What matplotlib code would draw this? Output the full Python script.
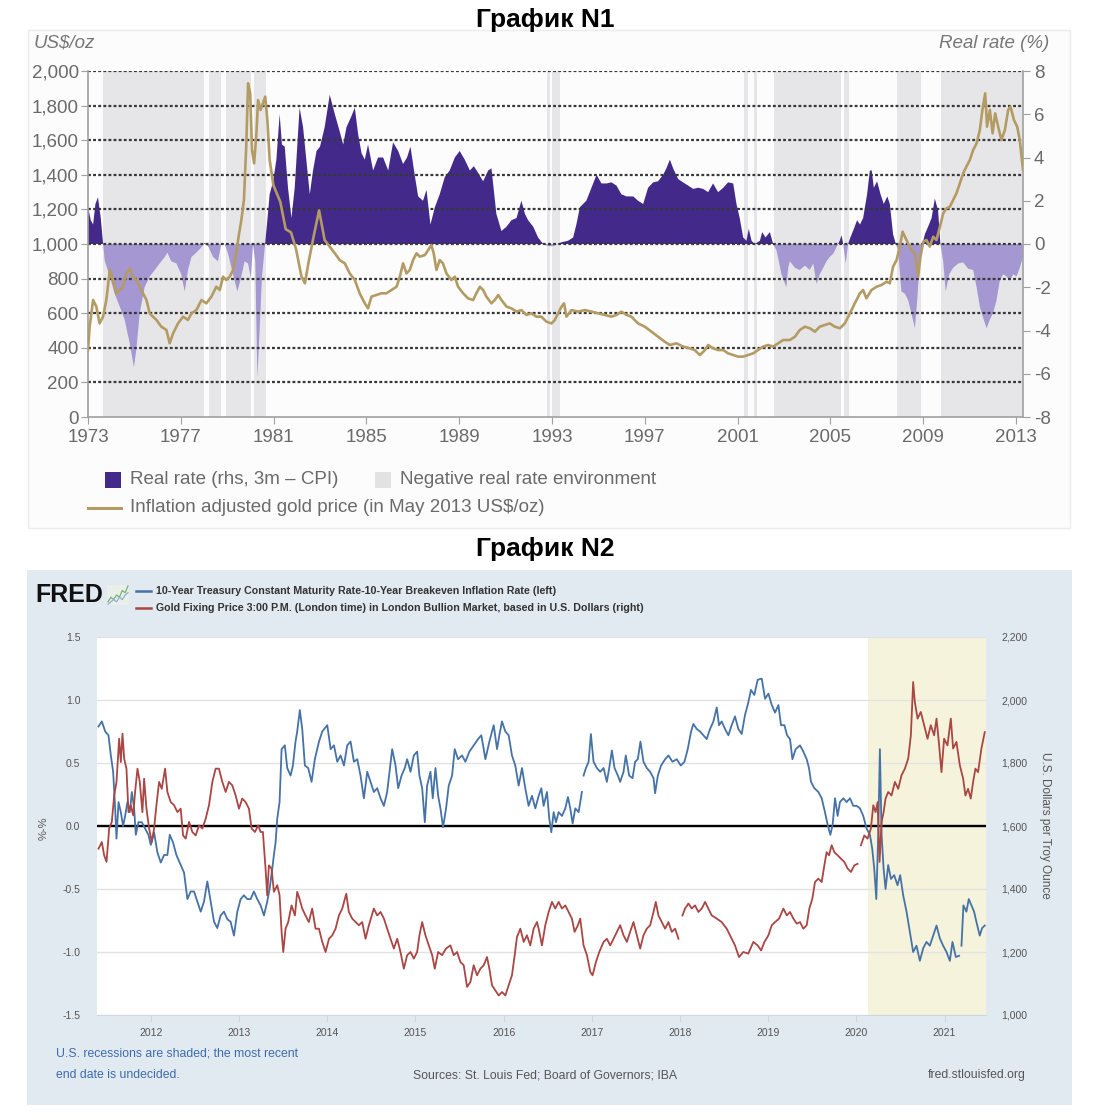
import numpy as np
import matplotlib
matplotlib.use('Agg')
import matplotlib.pyplot as plt
from matplotlib.patches import Rectangle
from matplotlib.lines import Line2D
from matplotlib.ticker import FuncFormatter

NAN = float('nan')

# ---------------- Chart N1 data ----------------
p1_rate_years = [
    1973.00, 1973.12, 1973.22, 1973.32, 1973.43, 1973.55, 1973.65, 1973.72, 1973.94, 1974.15,
    1974.37, 1974.58, 1974.80, 1974.98, 1975.08, 1975.23, 1975.44, 1975.66, 1975.88, 1976.09,
    1976.31, 1976.42, 1976.59, 1976.81, 1977.02, 1977.17, 1977.31, 1977.46, 1977.67, 1977.89,
    1978.03, 1978.20, 1978.39, 1978.60, 1978.75, 1978.89, 1979.04, 1979.25, 1979.44, 1979.61,
    1979.75, 1979.90, 1980.02, 1980.11, 1980.21, 1980.30, 1980.40, 1980.50, 1980.62, 1980.73,
    1980.83, 1980.98, 1981.12, 1981.26, 1981.36, 1981.48, 1981.62, 1981.77, 1981.91, 1982.12,
    1982.27, 1982.41, 1982.56, 1982.70, 1982.85, 1983.00, 1983.20, 1983.42, 1983.64, 1983.85,
    1984.00, 1984.14, 1984.35, 1984.50, 1984.64, 1984.79, 1984.93, 1985.07, 1985.29, 1985.50,
    1985.72, 1985.94, 1986.15, 1986.37, 1986.58, 1986.75, 1986.90, 1987.08, 1987.23, 1987.44,
    1987.59, 1987.76, 1987.95, 1988.16, 1988.38, 1988.59, 1988.81, 1989.02, 1989.24, 1989.46,
    1989.63, 1989.81, 1990.03, 1990.25, 1990.39, 1990.60, 1990.82, 1991.04, 1991.25, 1991.47,
    1991.68, 1991.83, 1991.97, 1992.19, 1992.40, 1992.62, 1992.83, 1993.05, 1993.41, 1993.69,
    1993.91, 1994.05, 1994.20, 1994.34, 1994.48, 1994.70, 1994.92, 1995.13, 1995.35, 1995.56,
    1995.78, 1995.99, 1996.21, 1996.50, 1996.71, 1996.93, 1997.14, 1997.36, 1997.57, 1997.79,
    1997.93, 1998.08, 1998.22, 1998.44, 1998.65, 1998.87, 1999.08, 1999.30, 1999.51, 1999.73,
    1999.94, 2000.16, 2000.38, 2000.59, 2000.81, 2000.95, 2001.09, 2001.24, 2001.38, 2001.48,
    2001.60, 2001.74, 2001.96, 2002.06, 2002.20, 2002.39, 2002.53, 2002.68, 2002.89, 2003.10,
    2003.18, 2003.25, 2003.47, 2003.68, 2003.90, 2004.11, 2004.26, 2004.40, 2004.54, 2004.69,
    2004.83, 2004.97, 2005.12, 2005.26, 2005.40, 2005.48, 2005.55, 2005.66, 2005.76, 2005.86,
    2006.01, 2006.15, 2006.27, 2006.41, 2006.58, 2006.70, 2006.78, 2006.87, 2007.01, 2007.16,
    2007.30, 2007.45, 2007.56, 2007.70, 2007.82, 2007.92, 2008.06, 2008.21, 2008.35, 2008.49,
    2008.64, 2008.74, 2008.85, 2008.97, 2009.07, 2009.21, 2009.36, 2009.50, 2009.64, 2009.74,
    2009.86, 2009.97, 2010.12, 2010.29, 2010.51, 2010.72, 2010.94, 2011.15, 2011.30, 2011.44,
    2011.58, 2011.73, 2011.87, 2012.01, 2012.16, 2012.30, 2012.44, 2012.59, 2012.73, 2012.88,
    2013.02, 2013.16, 2013.30]
p1_rate_vals = [
    1.7, 1.1, 0.9, 1.85, 2.16, 1.2, 0.0, -0.77, -1.5, -2.3,
    -2.9, -3.5, -4.6, -5.7, -4.9, -3.2, -2.0, -1.5, -1.2, -0.9,
    -0.6, -0.4, -0.8, -0.9, -1.4, -2.2, -1.2, -0.6, -0.4, -0.15,
    0.05, -0.15, -0.6, -0.8, 0.05, 0.0, -0.45, -1.4, -2.2, -1.5,
    -0.8, -0.9, -1.6, 0.0, -0.8, -6.2, -3.9, -1.5, -0.15, 1.1,
    2.3, 2.9, 3.9, 6.0, 4.6, 4.5, 2.6, 1.2, 2.6, 6.3,
    5.4, 3.9, 2.3, 3.4, 4.3, 4.5, 5.4, 6.9, 6.0, 5.2,
    4.6, 5.4, 5.9, 6.3, 5.1, 4.2, 3.9, 4.6, 3.4, 4.0,
    4.0, 3.4, 4.7, 4.3, 3.7, 4.0, 4.5, 3.2, 2.2, 2.0,
    2.5, 0.9, 1.7, 2.3, 3.1, 3.4, 4.0, 4.3, 3.9, 3.4,
    3.6, 3.3, 2.9, 3.4, 3.5, 1.4, 0.6, 0.8, 1.1, 1.2,
    2.0, 1.4, 1.1, 0.8, 0.3, 0.0, -0.1, -0.1, 0.08, 0.15,
    0.3, 0.9, 1.7, 1.85, 2.0, 2.6, 3.2, 2.8, 2.8, 2.85,
    2.7, 2.3, 2.2, 2.2, 2.0, 1.85, 2.6, 2.85, 2.9, 3.2,
    3.5, 3.9, 3.5, 3.0, 2.85, 2.7, 2.55, 2.6, 2.55, 2.4,
    2.8, 2.4, 2.6, 2.85, 2.8, 1.85, 1.2, 0.3, 0.15, 0.7,
    0.15, 0.0, 0.15, 0.55, 0.3, 0.55, 0.0, -0.3, -1.4, -2.0,
    -1.1, -0.8, -1.1, -1.2, -1.0, -1.2, -0.9, -1.85, -1.4, -1.1,
    -0.8, -0.6, -0.45, -0.15, 0.15, 0.4, 0.0, -0.9, 0.0, 0.3,
    0.7, 1.1, 0.9, 1.2, 2.3, 3.4, 3.4, 2.6, 2.9, 2.3,
    1.85, 2.2, 1.85, 0.45, 0.0, -0.3, -2.2, -2.3, -2.6, -3.2,
    -3.9, -2.6, -0.8, 0.0, 0.45, 0.8, 1.2, 2.1, 1.55, 0.0,
    -0.8, -2.2, -1.4, -1.1, -0.9, -0.85, -1.15, -1.2, -2.0, -2.9,
    -3.4, -3.9, -3.5, -3.2, -2.6, -1.7, -1.4, -1.5, -1.7, -1.4,
    -1.5, -1.1, -0.6]

p1_gold_years = [
    1973.00, 1973.07, 1973.22, 1973.36, 1973.50, 1973.65, 1973.79, 1973.94, 1974.08, 1974.22,
    1974.37, 1974.51, 1974.65, 1974.80, 1974.94, 1975.08, 1975.23, 1975.37, 1975.52, 1975.66,
    1975.80, 1975.95, 1976.16, 1976.38, 1976.52, 1976.67, 1976.88, 1977.10, 1977.31, 1977.46,
    1977.67, 1977.89, 1978.10, 1978.32, 1978.53, 1978.68, 1978.82, 1978.96, 1979.11, 1979.25,
    1979.39, 1979.49, 1979.61, 1979.72, 1979.82, 1979.90, 1979.99, 1980.07, 1980.16, 1980.26,
    1980.33, 1980.44, 1980.54, 1980.64, 1980.73, 1980.83, 1980.99, 1981.29, 1981.52, 1981.75,
    1981.97, 1982.20, 1982.35, 1982.50, 1982.73, 1982.96, 1983.20, 1983.42, 1983.64, 1983.85,
    1984.07, 1984.28, 1984.50, 1984.71, 1984.93, 1985.07, 1985.22, 1985.43, 1985.65, 1985.86,
    1986.08, 1986.30, 1986.44, 1986.58, 1986.73, 1986.87, 1987.01, 1987.16, 1987.30, 1987.52,
    1987.66, 1987.80, 1987.90, 1988.02, 1988.16, 1988.30, 1988.45, 1988.66, 1988.81, 1988.95,
    1989.17, 1989.38, 1989.60, 1989.74, 1989.89, 1990.03, 1990.17, 1990.39, 1990.53, 1990.68,
    1990.82, 1991.04, 1991.25, 1991.47, 1991.68, 1991.90, 1992.11, 1992.33, 1992.54, 1992.76,
    1992.98, 1993.12, 1993.26, 1993.41, 1993.52, 1993.62, 1993.84, 1994.13, 1994.41, 1994.70,
    1994.99, 1995.28, 1995.56, 1995.78, 1995.99, 1996.21, 1996.42, 1996.71, 1997.00, 1997.29,
    1997.57, 1997.86, 1998.08, 1998.36, 1998.65, 1998.94, 1999.15, 1999.37, 1999.59, 1999.73,
    1999.94, 2000.16, 2000.38, 2000.59, 2000.81, 2001.02, 2001.24, 2001.45, 2001.67, 2001.88,
    2002.10, 2002.32, 2002.53, 2002.75, 2002.96, 2003.25, 2003.47, 2003.68, 2003.90, 2004.11,
    2004.33, 2004.54, 2004.76, 2004.97, 2005.19, 2005.41, 2005.62, 2005.84, 2006.05, 2006.27,
    2006.41, 2006.55, 2006.77, 2006.99, 2007.20, 2007.42, 2007.56, 2007.70, 2007.85, 2007.99,
    2008.11, 2008.21, 2008.35, 2008.49, 2008.64, 2008.78, 2008.88, 2009.00, 2009.14, 2009.28,
    2009.43, 2009.57, 2009.72, 2009.86, 2010.00, 2010.15, 2010.29, 2010.43, 2010.58, 2010.72,
    2010.86, 2011.01, 2011.15, 2011.30, 2011.44, 2011.55, 2011.67, 2011.75, 2011.87, 2011.99,
    2012.10, 2012.23, 2012.37, 2012.52, 2012.66, 2012.76, 2012.91, 2013.05, 2013.16, 2013.30]
p1_gold_vals = [
    387, 522, 676, 638, 541, 580, 676, 850, 792, 715,
    734, 753, 830, 859, 811, 792, 753, 715, 676, 599,
    580, 561, 522, 503, 426, 484, 541, 580, 561, 599,
    618, 676, 657, 696, 753, 734, 811, 792, 811, 850,
    946, 1042, 1139, 1254, 1563, 1929, 1871, 1543, 1466, 1640,
    1832, 1775, 1813, 1852, 1717, 1486, 1340, 1243, 1086, 1067,
    969, 812, 773, 890, 1047, 1194, 1023, 985, 946, 907,
    888, 830, 792, 715, 657, 628, 696, 705, 715, 715,
    734, 753, 811, 888, 830, 850, 907, 946, 927, 936,
    965, 994, 946, 850, 907, 888, 830, 792, 811, 753,
    715, 686, 676, 715, 753, 734, 696, 657, 676, 705,
    676, 638, 628, 609, 618, 590, 599, 580, 580, 551,
    541, 561, 599, 638, 657, 580, 618, 609, 618, 609,
    599, 590, 580, 590, 609, 590, 580, 541, 522, 493,
    464, 435, 416, 426, 407, 397, 387, 358, 387, 416,
    397, 387, 387, 368, 358, 349, 349, 358, 368, 387,
    407, 416, 407, 426, 445, 445, 464, 503, 522, 513,
    493, 522, 532, 541, 522, 513, 541, 599, 657, 715,
    734, 686, 734, 753, 763, 782, 773, 869, 907, 985,
    1071, 1042, 1004, 965, 946, 811, 927, 1013, 1023, 985,
    1042, 1023, 1100, 1177, 1206, 1216, 1254, 1293, 1351, 1408,
    1447, 1486, 1543, 1582, 1659, 1775, 1871, 1678, 1775, 1640,
    1755, 1678, 1601, 1659, 1775, 1794, 1717, 1678, 1601, 1428]

# negative real rate environment (shaded periods)
neg_band_start = [1973.66, 1978.22, 1978.95, 1980.16, 1992.78, 1993.00, 2001.26, 2001.70, 2002.57, 2005.60, 2007.85, 2009.78]
neg_band_end = [1978.02, 1978.75, 1980.04, 1980.66, 1992.92, 1993.35, 2001.44, 2001.84, 2005.47, 2005.80, 2008.92, 2013.30]

p1_left_ticks = list(range(0, 2001, 200))
p1_right_ticks = list(range(-8, 9, 2))
p1_x_ticks = list(range(1973, 2014, 4))

# ---------------- Chart N2 data ----------------
p2_real_years = [
    2011.407, 2011.445, 2011.483, 2011.520, 2011.547, 2011.573, 2011.596, 2011.611, 2011.634, 2011.660,
    2011.686, 2011.709, 2011.735, 2011.762, 2011.785, 2011.811, 2011.830, 2011.860, 2011.898, 2011.936,
    2011.973, 2012.000, 2012.037, 2012.075, 2012.113, 2012.151, 2012.188, 2012.215, 2012.252, 2012.290,
    2012.339, 2012.377, 2012.415, 2012.452, 2012.490, 2012.528, 2012.566, 2012.603, 2012.641, 2012.679,
    2012.717, 2012.754, 2012.792, 2012.830, 2012.868, 2012.905, 2012.943, 2012.981, 2013.019, 2013.056,
    2013.094, 2013.132, 2013.169, 2013.207, 2013.245, 2013.283, 2013.320, 2013.347, 2013.377, 2013.396,
    2013.415, 2013.434, 2013.460, 2013.483, 2013.520, 2013.547, 2013.585, 2013.611, 2013.641, 2013.660,
    2013.690, 2013.717, 2013.747, 2013.785, 2013.823, 2013.860, 2013.907, 2013.944, 2014.001, 2014.039,
    2014.077, 2014.114, 2014.152, 2014.190, 2014.227, 2014.265, 2014.303, 2014.341, 2014.378, 2014.416,
    2014.454, 2014.492, 2014.529, 2014.567, 2014.605, 2014.643, 2014.680, 2014.707, 2014.737, 2014.775,
    2014.805, 2014.843, 2014.880, 2014.907, 2014.945, 2014.982, 2015.020, 2015.046, 2015.077, 2015.107,
    2015.133, 2015.171, 2015.197, 2015.228, 2015.258, 2015.284, 2015.314, 2015.348, 2015.378, 2015.416,
    2015.446, 2015.484, 2015.529, 2015.567, 2015.612, 2015.661, 2015.711, 2015.748, 2015.794, 2015.839,
    2015.888, 2015.926, 2015.952, 2015.982, 2016.020, 2016.058, 2016.095, 2016.133, 2016.171, 2016.209,
    2016.246, 2016.284, 2016.322, 2016.360, 2016.398, 2016.428, 2016.454, 2016.492, 2016.518, 2016.541,
    2016.568, 2016.594, 2016.624, 2016.662, 2016.700, 2016.730, 2016.756, 2016.783, 2016.813, 2016.851,
    2016.888, 2016.897, 2016.907, 2016.934, 2016.964, 2016.990, 2017.020, 2017.058, 2017.096, 2017.134,
    2017.171, 2017.198, 2017.228, 2017.258, 2017.296, 2017.322, 2017.360, 2017.386, 2017.424, 2017.462,
    2017.492, 2017.522, 2017.552, 2017.586, 2017.624, 2017.662, 2017.700, 2017.718, 2017.749, 2017.786,
    2017.832, 2017.869, 2017.915, 2017.964, 2018.009, 2018.051, 2018.088, 2018.126, 2018.152, 2018.190,
    2018.228, 2018.266, 2018.303, 2018.341, 2018.379, 2018.417, 2018.443, 2018.473, 2018.511, 2018.549,
    2018.586, 2018.624, 2018.662, 2018.700, 2018.737, 2018.775, 2018.805, 2018.843, 2018.881, 2018.927,
    2018.965, 2019.003, 2019.041, 2019.078, 2019.116, 2019.146, 2019.184, 2019.214, 2019.248, 2019.275,
    2019.312, 2019.361, 2019.399, 2019.437, 2019.463, 2019.486, 2019.524, 2019.569, 2019.607, 2019.644,
    2019.675, 2019.705, 2019.731, 2019.758, 2019.788, 2019.814, 2019.852, 2019.890, 2019.928, 2019.965,
    2020.003, 2020.041, 2020.078, 2020.116, 2020.154, 2020.180, 2020.203, 2020.226, 2020.248, 2020.267,
    2020.286, 2020.309, 2020.331, 2020.361, 2020.392, 2020.429, 2020.467, 2020.497, 2020.531, 2020.569,
    2020.607, 2020.644, 2020.682, 2020.720, 2020.758, 2020.795, 2020.833, 2020.871, 2020.909, 2020.946,
    2020.984, 2021.022, 2021.060, 2021.090, 2021.128, 2021.165, 2021.175, 2021.192, 2021.214, 2021.248,
    2021.275, 2021.305, 2021.335, 2021.361, 2021.399, 2021.426, 2021.456]
p2_real_vals = [
    0.79, 0.83, 0.75, 0.72, 0.56, 0.43, 0.14, -0.10, 0.19, 0.11,
    0.00, 0.08, 0.19, 0.11, 0.27, 0.14, -0.07, 0.03, 0.03, -0.02,
    -0.07, -0.15, -0.05, -0.21, -0.29, -0.23, -0.23, -0.07, -0.13, -0.23,
    -0.31, -0.37, -0.58, -0.52, -0.52, -0.60, -0.68, -0.60, -0.44, -0.60,
    -0.76, -0.81, -0.71, -0.68, -0.74, -0.76, -0.87, -0.68, -0.58, -0.55,
    -0.58, -0.58, -0.52, -0.58, -0.63, -0.71, -0.60, -0.50, -0.34, -0.23,
    -0.13, 0.06, 0.19, 0.61, 0.64, 0.46, 0.40, 0.48, 0.67, 0.75,
    0.92, 0.77, 0.48, 0.46, 0.35, 0.53, 0.67, 0.75, 0.80, 0.61,
    0.64, 0.51, 0.56, 0.48, 0.64, 0.67, 0.51, 0.53, 0.40, 0.22,
    0.43, 0.35, 0.27, 0.30, 0.22, 0.16, 0.27, 0.43, 0.61, 0.48,
    0.30, 0.40, 0.46, 0.53, 0.43, 0.56, 0.59, 0.40, 0.30, 0.03,
    0.32, 0.43, 0.22, 0.46, 0.24, 0.14, -0.01, 0.14, 0.32, 0.40,
    0.61, 0.53, 0.56, 0.51, 0.59, 0.64, 0.69, 0.72, 0.53, 0.67,
    0.80, 0.61, 0.72, 0.83, 0.75, 0.72, 0.56, 0.48, 0.32, 0.46,
    0.30, 0.16, 0.24, 0.14, 0.24, 0.30, 0.16, 0.27, 0.06, -0.05,
    0.11, 0.03, 0.11, 0.08, 0.14, 0.23, 0.14, 0.02, 0.14, 0.11,
    0.27, NAN, 0.40, 0.46, 0.51, 0.73, 0.51, 0.46, 0.43, 0.46,
    0.35, 0.46, 0.60, 0.46, 0.40, 0.35, 0.43, 0.56, 0.40, 0.38,
    0.51, 0.53, 0.67, 0.51, 0.46, 0.43, 0.38, 0.26, 0.40, 0.48,
    0.53, 0.56, 0.51, 0.53, 0.48, 0.51, 0.61, 0.75, 0.81, 0.77,
    0.75, 0.72, 0.69, 0.77, 0.83, 0.94, 0.80, 0.83, 0.77, 0.72,
    0.80, 0.87, 0.77, 0.73, 0.88, 0.98, 1.08, 1.04, 1.16, 1.17,
    1.01, 1.05, 0.96, 0.90, 0.96, 0.80, 0.80, 0.72, 0.69, 0.53,
    0.61, 0.64, 0.59, 0.53, 0.46, 0.35, 0.30, 0.27, 0.22, 0.11,
    0.01, -0.07, 0.01, 0.22, 0.08, 0.19, 0.22, 0.19, 0.22, 0.16,
    0.16, 0.14, 0.08, -0.02, -0.07, -0.18, -0.34, -0.58, -0.07, 0.61,
    -0.07, -0.34, -0.50, -0.31, -0.42, -0.39, -0.47, -0.39, -0.55, -0.68,
    -0.84, -1.00, -0.95, -1.07, -0.97, -0.92, -0.95, -0.87, -0.79, -0.89,
    -0.95, -1.00, -1.07, -0.92, -1.04, -1.03, NAN, -0.95, -0.63, -0.68,
    -0.58, -0.63, -0.68, -0.76, -0.87, -0.81, -0.79]

p2_gold_years = [
    2011.407, 2011.445, 2011.471, 2011.498, 2011.528, 2011.558, 2011.585, 2011.611, 2011.641, 2011.660,
    2011.679, 2011.698, 2011.724, 2011.747, 2011.773, 2011.800, 2011.822, 2011.849, 2011.875, 2011.905,
    2011.924, 2011.951, 2011.981, 2012.011, 2012.037, 2012.064, 2012.094, 2012.124, 2012.162, 2012.188,
    2012.226, 2012.264, 2012.302, 2012.339, 2012.366, 2012.396, 2012.434, 2012.471, 2012.509, 2012.547,
    2012.585, 2012.622, 2012.660, 2012.698, 2012.735, 2012.773, 2012.811, 2012.849, 2012.886, 2012.924,
    2012.962, 2013.000, 2013.037, 2013.075, 2013.113, 2013.143, 2013.181, 2013.218, 2013.245, 2013.271,
    2013.301, 2013.320, 2013.339, 2013.369, 2013.396, 2013.434, 2013.460, 2013.483, 2013.502, 2013.528,
    2013.558, 2013.596, 2013.634, 2013.660, 2013.686, 2013.717, 2013.754, 2013.792, 2013.830, 2013.868,
    2013.907, 2013.944, 2013.982, 2014.020, 2014.058, 2014.095, 2014.133, 2014.171, 2014.216, 2014.246,
    2014.284, 2014.322, 2014.360, 2014.397, 2014.435, 2014.473, 2014.529, 2014.567, 2014.605, 2014.643,
    2014.680, 2014.718, 2014.756, 2014.794, 2014.831, 2014.869, 2014.907, 2014.945, 2014.982, 2015.020,
    2015.046, 2015.077, 2015.114, 2015.152, 2015.190, 2015.220, 2015.258, 2015.303, 2015.348, 2015.397,
    2015.435, 2015.473, 2015.511, 2015.548, 2015.586, 2015.624, 2015.661, 2015.699, 2015.737, 2015.775,
    2015.812, 2015.839, 2015.869, 2015.907, 2015.945, 2015.982, 2016.020, 2016.058, 2016.095, 2016.126,
    2016.152, 2016.190, 2016.228, 2016.265, 2016.303, 2016.341, 2016.379, 2016.398, 2016.435, 2016.473,
    2016.511, 2016.549, 2016.586, 2016.624, 2016.662, 2016.700, 2016.737, 2016.775, 2016.805, 2016.843,
    2016.869, 2016.907, 2016.945, 2016.983, 2017.009, 2017.047, 2017.085, 2017.134, 2017.171, 2017.209,
    2017.247, 2017.285, 2017.322, 2017.360, 2017.398, 2017.435, 2017.473, 2017.511, 2017.549, 2017.586,
    2017.624, 2017.662, 2017.700, 2017.726, 2017.756, 2017.794, 2017.832, 2017.869, 2017.907, 2017.945,
    2017.983, 2018.000, 2018.028, 2018.058, 2018.096, 2018.134, 2018.171, 2018.209, 2018.247, 2018.285,
    2018.322, 2018.360, 2018.417, 2018.473, 2018.530, 2018.586, 2018.624, 2018.669, 2018.718, 2018.775,
    2018.832, 2018.881, 2018.920, 2018.958, 2019.003, 2019.041, 2019.078, 2019.124, 2019.173, 2019.211,
    2019.248, 2019.286, 2019.324, 2019.361, 2019.399, 2019.437, 2019.467, 2019.501, 2019.531, 2019.569,
    2019.607, 2019.637, 2019.663, 2019.690, 2019.720, 2019.750, 2019.788, 2019.826, 2019.863, 2019.901,
    2019.939, 2019.977, 2020.014, 2020.025, 2020.052, 2020.090, 2020.127, 2020.165, 2020.192, 2020.218,
    2020.241, 2020.263, 2020.286, 2020.309, 2020.331, 2020.361, 2020.399, 2020.437, 2020.475, 2020.512,
    2020.550, 2020.588, 2020.618, 2020.644, 2020.663, 2020.694, 2020.731, 2020.769, 2020.807, 2020.844,
    2020.882, 2020.909, 2020.935, 2020.965, 2020.995, 2021.033, 2021.071, 2021.097, 2021.135, 2021.173,
    2021.211, 2021.237, 2021.267, 2021.297, 2021.324, 2021.350, 2021.380, 2021.418, 2021.456]
p2_gold_vals = [
    1528, 1549, 1507, 1486, 1592, 1613, 1697, 1740, 1877, 1803,
    1893, 1814, 1782, 1644, 1666, 1634, 1708, 1782, 1740, 1644,
    1750, 1655, 1592, 1549, 1592, 1666, 1740, 1718, 1782, 1708,
    1676, 1666, 1644, 1655, 1570, 1560, 1613, 1581, 1570, 1602,
    1592, 1623, 1666, 1740, 1782, 1782, 1740, 1708, 1740, 1729,
    1697, 1655, 1687, 1676, 1655, 1592, 1581, 1602, 1581, 1581,
    1465, 1380, 1475, 1465, 1391, 1412, 1380, 1264, 1200, 1274,
    1295, 1348, 1316, 1391, 1369, 1338, 1316, 1295, 1338, 1274,
    1274, 1232, 1200, 1242, 1253, 1274, 1316, 1338, 1385, 1327,
    1306, 1295, 1285, 1295, 1242, 1285, 1338, 1316, 1327, 1306,
    1274, 1242, 1211, 1242, 1200, 1147, 1190, 1200, 1179, 1200,
    1253, 1295, 1253, 1221, 1190, 1147, 1200, 1190, 1211, 1221,
    1190, 1200, 1168, 1158, 1089, 1105, 1158, 1126, 1147, 1158,
    1184, 1147, 1094, 1078, 1062, 1073, 1062, 1094, 1126, 1190,
    1248, 1274, 1232, 1253, 1221, 1274, 1295, 1274, 1221, 1285,
    1327, 1359, 1338, 1359, 1338, 1348, 1327, 1306, 1264, 1285,
    1306, 1221, 1190, 1137, 1126, 1168, 1200, 1232, 1242, 1221,
    1242, 1264, 1285, 1253, 1232, 1264, 1295, 1253, 1211, 1253,
    1274, 1285, 1327, 1359, 1316, 1295, 1274, 1295, 1264, 1274,
    1242, NAN, 1316, 1338, 1354, 1338, 1348, 1327, 1338, 1359,
    1338, 1316, 1306, 1295, 1274, 1242, 1221, 1184, 1200, 1195,
    1232, 1221, 1205, 1232, 1253, 1285, 1295, 1306, 1338, 1316,
    1327, 1306, 1290, 1295, 1274, 1285, 1338, 1369, 1422, 1433,
    1422, 1475, 1517, 1507, 1539, 1517, 1507, 1496, 1486, 1465,
    1454, 1475, 1480, NAN, 1539, 1570, 1560, 1592, 1666, 1644,
    1676, 1486, 1613, 1644, 1687, 1708, 1697, 1740, 1718, 1761,
    1782, 1814, 1888, 2057, 1994, 1941, 1962, 1920, 1877, 1920,
    1888, 1941, 1867, 1771, 1877, 1856, 1941, 1846, 1867, 1793,
    1750, 1697, 1718, 1687, 1740, 1782, 1771, 1846, 1898]

recession_start = 2020.13
recession_end = 2021.47
p2_x_ticks = list(range(2012, 2022))
p2_left_ticks = [-1.5, -1.0, -0.5, 0.0, 0.5, 1.0, 1.5]
p2_right_ticks = list(range(1000, 2201, 200))

# small FRED logo graph
icon_green = [1, 3, 2, 4, 3, 6, 5, 8]
icon_blue = [0, 1, 2, 1, 3, 2, 4, 5]

# ---------------- styling ----------------
plt.rcParams['axes.unicode_minus'] = False
plt.rcParams['font.family'] = ['Liberation Sans', 'DejaVu Sans']

W, H = 1094, 1120
def fx(px):
    return px / W
def fy(py):
    return 1 - py / H

DARK_PURPLE = '#432a8a'
LIGHT_PURPLE = '#a597d2'
GOLD = '#b39b63'
SHADE = '#e6e6e8'
GREY_TXT = '#6a6a6a'
FRED_BLUE = '#4572a7'
FRED_RED = '#aa4643'
FS1 = 13.5

fig = plt.figure(figsize=(W / 100, H / 100), dpi=100)
fig.patch.set_facecolor('white')

# ================= Chart N1 =================
fig.patches.append(Rectangle((fx(28), fy(528)), fx(1070) - fx(28), fy(30) - fy(528),
                             transform=fig.transFigure, facecolor='#fcfcfc',
                             edgecolor='#ececec', lw=1, zorder=-5))
fig.text(fx(545), fy(20), 'График N1', ha='center', va='center', fontsize=19, fontweight='bold')

ax1 = fig.add_axes([fx(88), fy(417), fx(1023) - fx(88), fy(71) - fy(417)])
ax1.set_facecolor('none')
ax1g = ax1.twinx()
ax1.yaxis.tick_right()
ax1g.yaxis.tick_left()

ax1.set_xlim(1973, 2013.3)
ax1.set_ylim(-8, 8)
ax1g.set_ylim(0, 2000)

for a, b in zip(neg_band_start, neg_band_end):
    ax1.axvspan(a, b, color=SHADE, lw=0, zorder=0)

rate = np.array(p1_rate_vals)
ax1.fill_between(p1_rate_years, rate, 0, where=rate >= 0, interpolate=True,
                 color=DARK_PURPLE, lw=0, zorder=1)
ax1.fill_between(p1_rate_years, rate, 0, where=rate <= 0, interpolate=True,
                 color=LIGHT_PURPLE, lw=0, zorder=1)

for v in p1_left_ticks[1:]:
    ax1g.axhline(v, color='#383838', lw=1.6, ls=(0, (1.3, 1.0)), zorder=1)
ax1g.plot(p1_gold_years, p1_gold_vals, color=GOLD, lw=1.9, zorder=3)

ax1.set_xticks(p1_x_ticks)
ax1.set_yticks(p1_right_ticks)
ax1g.set_yticks(p1_left_ticks)
ax1g.yaxis.set_major_formatter(FuncFormatter(lambda v, p: '{:,.0f}'.format(v)))

for a in (ax1, ax1g):
    for s in a.spines.values():
        s.set_visible(False)
ax1.spines['bottom'].set_visible(True)
ax1.spines['right'].set_visible(True)
ax1g.spines['left'].set_visible(True)
for s in (ax1.spines['bottom'], ax1.spines['right'], ax1g.spines['left']):
    s.set_color('#a0a0a0')
    s.set_linewidth(1.2)

ax1.tick_params(axis='x', direction='out', length=5, color='#a0a0a0',
                labelsize=FS1, labelcolor=GREY_TXT, pad=4)
ax1.tick_params(axis='y', direction='out', length=5, color='#a0a0a0',
                labelsize=FS1, labelcolor=GREY_TXT, pad=3)
ax1g.tick_params(axis='y', direction='out', length=5, color='#a0a0a0',
                 labelsize=FS1, labelcolor=GREY_TXT, pad=1.5)

fig.text(fx(34), fy(43), 'US\\$/oz', ha='left', va='center', fontsize=FS1,
         style='italic', color='#777777')
fig.text(fx(1049), fy(43), 'Real rate (%)', ha='right', va='center', fontsize=FS1,
         style='italic', color='#777777')

# legend
fig.patches.append(Rectangle((fx(105), fy(488)), 16 / W, 16 / H, transform=fig.transFigure,
                             facecolor=DARK_PURPLE, lw=0))
fig.text(fx(130), fy(480), 'Real rate (rhs, 3m – CPI)', va='center', fontsize=FS1, color=GREY_TXT)
fig.patches.append(Rectangle((fx(375), fy(488)), 16 / W, 16 / H, transform=fig.transFigure,
                             facecolor='#e2e2e4', lw=0))
fig.text(fx(400), fy(480), 'Negative real rate environment', va='center', fontsize=FS1, color=GREY_TXT)
fig.lines.append(Line2D([fx(88), fx(121)], [fy(508), fy(508)], transform=fig.transFigure,
                        color=GOLD, lw=2.2))
fig.text(fx(130), fy(508), 'Inflation adjusted gold price (in May 2013 US\\$/oz)', va='center',
         fontsize=FS1, color=GREY_TXT)

# ================= Chart N2 =================
fig.text(fx(545), fy(549), 'График N2', ha='center', va='center', fontsize=19, fontweight='bold')
fig.patches.append(Rectangle((fx(27), fy(1105)), fx(1072) - fx(27), fy(570) - fy(1105),
                             transform=fig.transFigure, facecolor='#e1e9f1', lw=0, zorder=-5))

ax2 = fig.add_axes([fx(97), fy(1015), fx(986) - fx(97), fy(637) - fy(1015)])
ax2.set_facecolor('white')
ax2.set_xlim(2011.39, 2021.47)
ax2.set_ylim(-1.5, 1.5)
ax2.axvspan(recession_start, recession_end, color='#f5f3dc', lw=0, zorder=0.2)
ax2.set_yticks(p2_left_ticks)
ax2.yaxis.set_major_formatter(FuncFormatter(lambda v, p: '{:.1f}'.format(v)))
ax2.set_axisbelow(True)
ax2.yaxis.grid(True, color='#e2e2e2', lw=1)
ax2.axhline(0, color='black', lw=1.7, zorder=3)
ax2.plot(p2_real_years, p2_real_vals, color=FRED_BLUE, lw=1.3, zorder=4)

ax2r = ax2.twinx()
ax2r.set_ylim(1000, 2200)
ax2r.set_yticks(p2_right_ticks)
ax2r.yaxis.set_major_formatter(FuncFormatter(lambda v, p: '{:,.0f}'.format(v)))
ax2r.plot(p2_gold_years, p2_gold_vals, color=FRED_RED, lw=1.3, zorder=4)

ax2.set_xticks(p2_x_ticks)
for a in (ax2, ax2r):
    for s in a.spines.values():
        s.set_visible(False)
ax2.spines['bottom'].set_visible(True)
ax2.spines['bottom'].set_color('#cfd8e2')
ax2.tick_params(axis='x', length=5, color='#cfd8e2', labelsize=7.5, labelcolor='#555555', pad=4)
ax2.tick_params(axis='y', length=0, labelsize=7.5, labelcolor='#555555', pad=12)
ax2r.tick_params(axis='y', length=0, labelsize=7.5, labelcolor='#555555', pad=11)

fig.text(fx(44), fy(828), '%-%', rotation=90, ha='center', va='center', fontsize=8, color='#555555')
fig.text(fx(1045), fy(825), 'U.S. Dollars per Troy Ounce', rotation=270, ha='center', va='center',
         fontsize=8.5, color='#555555')

# header with logo and legend
fig.text(fx(35), fy(595), 'FRED', ha='left', va='center', fontsize=18, fontweight='heavy',
         color='#111111')
ax_icon = fig.add_axes([fx(107), fy(605), 22 / W, 20 / H])
ax_icon.set_facecolor('#e9efe9')
ax_icon.plot(icon_green, color='#7bb07a', lw=0.9)
ax_icon.plot(icon_blue, color='#8fb0cf', lw=0.9)
ax_icon.set_xticks([])
ax_icon.set_yticks([])
for s in ax_icon.spines.values():
    s.set_visible(False)

fig.lines.append(Line2D([fx(136), fx(151)], [fy(591), fy(591)], transform=fig.transFigure,
                        color=FRED_BLUE, lw=1.8))
fig.text(fx(156), fy(591), '10-Year Treasury Constant Maturity Rate-10-Year Breakeven Inflation Rate (left)',
         va='center', fontsize=7.7, fontweight='bold', color='#333333')
fig.lines.append(Line2D([fx(136), fx(151)], [fy(608), fy(608)], transform=fig.transFigure,
                        color=FRED_RED, lw=1.8))
fig.text(fx(156), fy(608), 'Gold Fixing Price 3:00 P.M. (London time) in London Bullion Market, based in U.S. Dollars (right)',
         va='center', fontsize=7.7, fontweight='bold', color='#333333')

# footer
fig.text(fx(56), fy(1054), 'U.S. recessions are shaded; the most recent', va='center',
         fontsize=8.8, color='#3e6cab')
fig.text(fx(56), fy(1075), 'end date is undecided.', va='center', fontsize=8.8, color='#3e6cab')
fig.text(fx(545), fy(1075), 'Sources: St. Louis Fed; Board of Governors; IBA', ha='center', va='center',
         fontsize=8.8, color='#555555')
fig.text(fx(1026), fy(1075), 'fred.stlouisfed.org', ha='right', va='center', fontsize=8.8, color='#555555')

fig.savefig('out.png', dpi=100)
